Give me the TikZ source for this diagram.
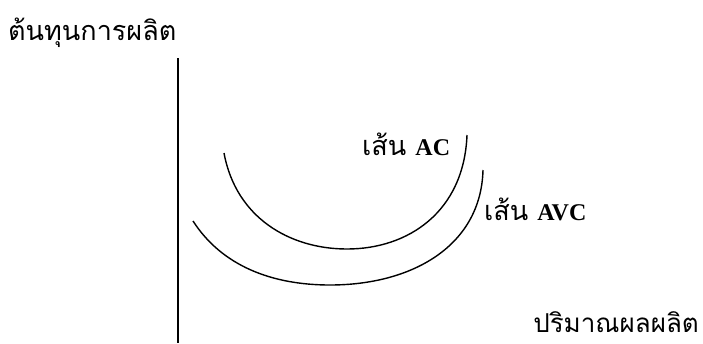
\documentclass[tikz,border=0pt]{standalone}
\usepackage{fontspec}
\setmainfont{Liberation Serif}
\newfontfamily\thaifont[Script=Thai]{Loma}
\begin{document}
\begin{tikzpicture}[x=1pt,y=-1pt,
  lbl/.style={anchor=base west, inner sep=0pt},
  thai/.style={font=\fontsize{27}{30}\selectfont\thaifont},
  curve/.style={line width=1.4pt}]
\useasboundingbox (0,0) rectangle (703,343);
\node[lbl, thai] (ylab) at (8,40) {ต้นทุนการผลิต};
\node[inner sep=0pt, anchor=base east, font=\fontsize{26}{30}\selectfont\thaifont] (xlab) at (699,332) {ปริมาณผลผลิต};
\coordinate (ytop) at (178,58);
\coordinate (ybot) at (178,343);
\draw[line width=1.4pt] (ytop) -- (ybot);
\coordinate (ac1) at (224,153);
\coordinate (ac2) at (347,249);
\coordinate (ac3) at (467,135);
\draw[curve] (ac1) .. controls (236,218) and (290,249) .. (ac2) .. controls (408,249) and (464,212) .. (ac3);
\coordinate (avc1) at (193,221);
\coordinate (avc2) at (330,285);
\coordinate (avc3) at (483,170);
\draw[curve] (avc1) .. controls (222,266) and (272,285) .. (avc2) .. controls (412,285) and (481,246) .. (avc3);
\node[lbl, thai] (aclab) at (362,155) {เส้น {\fontsize{24}{28}\selectfont\rmfamily\bfseries AC}};
\node[lbl, thai] (avclab) at (484,220) {เส้น {\fontsize{24}{28}\selectfont\rmfamily\bfseries AVC}};
\end{tikzpicture}
\end{document}
